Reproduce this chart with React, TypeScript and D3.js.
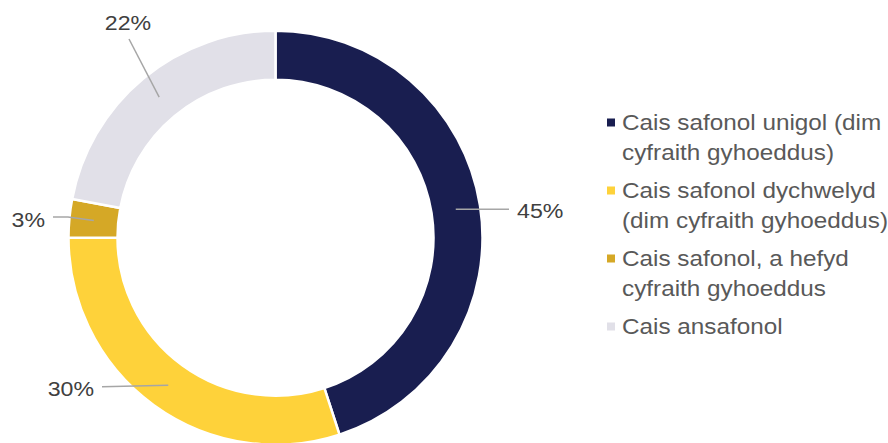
import React from "react";
import * as d3 from "d3";

// share of applications by type (%)
const categories = [
  "Cais safonol unigol (dim cyfraith gyhoeddus)",
  "Cais safonol dychwelyd (dim cyfraith gyhoeddus)",
  "Cais safonol, a hefyd cyfraith gyhoeddus",
  "Cais ansafonol",
];
const legendLines = [
  ["Cais safonol unigol (dim", "cyfraith gyhoeddus)"],
  ["Cais safonol dychwelyd", "(dim cyfraith gyhoeddus)"],
  ["Cais safonol, a hefyd", "cyfraith gyhoeddus"],
  ["Cais ansafonol"],
];
const values = [45, 30, 3, 22];
const valueLabels = ["45%", "30%", "3%", "22%"];
const colors = ["#191e50", "#fed23a", "#d5a826", "#e1e0e8"];

const width = 888;
const height = 443;
const cx = 275.5;
const cy = 237.7;
const outerR = 207;
const innerR = 158;
const font = "'Liberation Sans', Arial, sans-serif";
const stretch = 1.13; // source text renders wider than Arial

// leader line end / elbow and text anchor, relative to centre
const labelLayout = [
  { end: [233.5, null], elbow: null, text: [241.5, 218.3 - cy], anchor: "start" },
  { end: [-173.5, 149], elbow: null, text: [-181.5, 158.6], anchor: "end" },
  { end: [-222.5, -20.7], elbow: [-207.5, -20.7], text: [-230.5, -10.5], anchor: "end" },
  { end: [-146.5, -198.7], elbow: null, text: [-147.5, -207.5], anchor: "middle" },
];

export default function App() {
  const pie = d3
    .pie<number>()
    .value((d) => d)
    .sort(null);
  const arcs = pie(values);
  const arc = d3.arc<d3.PieArcDatum<number>>().innerRadius(innerR).outerRadius(outerR);
  const midArc = d3
    .arc<d3.PieArcDatum<number>>()
    .innerRadius((innerR + outerR) / 2)
    .outerRadius((innerR + outerR) / 2);

  const legendX = 607;
  const legendY = 122.5;
  const itemStep = 68;
  const lineH = 29.5;

  return (
    <svg
      width={width}
      height={height}
      style={{ position: "absolute", left: 0, top: 0, background: "#fff" }}
    >
      <g transform={`translate(${cx},${cy})`}>
        {arcs.map((a, i) => (
          <path key={i} d={arc(a) || ""} fill={colors[i]} stroke="#fff" strokeWidth={2.5} />
        ))}
        {arcs.map((a, i) => {
          const [sx, sy] = midArc.centroid(a);
          const lay = labelLayout[i];
          const ex = lay.end[0];
          const ey = lay.end[1] === null ? sy : lay.end[1];
          const pts = [[sx, sy]];
          if (lay.elbow) pts.push(lay.elbow as number[]);
          pts.push([ex, ey]);
          const [tx, ty] = lay.text;
          return (
            <g key={`l${i}`}>
              <path
                d={d3.line()(pts as [number, number][]) || ""}
                fill="none"
                stroke="#a6a6a6"
                strokeWidth={1.5}
              />
              <text
                transform={`translate(${tx},${ty}) scale(${stretch},1)`}
                textAnchor={lay.anchor}
                fontFamily={font}
                fontSize={20.5}
                fill="#404040"
              >
                {valueLabels[i]}
              </text>
            </g>
          );
        })}
      </g>
      <g>
        {categories.map((c, i) => (
          <g key={c} transform={`translate(${legendX},${legendY + i * itemStep})`}>
            <rect x={0} y={-4} width={8} height={8} fill={colors[i]} />
            {legendLines[i].map((line, j) => (
              <text
                key={j}
                transform={`translate(15,${7.5 + j * lineH}) scale(${stretch},1)`}
                fontFamily={font}
                fontSize={21.5}
                fill="#595959"
              >
                {line}
              </text>
            ))}
          </g>
        ))}
      </g>
    </svg>
  );
}
